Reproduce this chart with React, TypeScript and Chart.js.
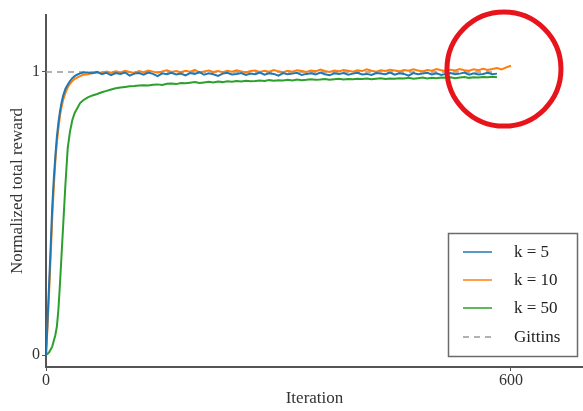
import React, { useEffect, useRef } from "react";
import { Chart, registerables } from "chart.js";

Chart.register(...registerables);

// Iterations shared by all series
const ITER_EARLY = [0, 2, 4, 6, 8, 10, 12, 14, 16, 18, 20, 22, 25, 28, 31, 34, 37, 40, 44, 48];
const ITER_LATE: number[] = [];
for (let it = 54; it <= 600; it += 6) ITER_LATE.push(it);
const ITERATIONS = [...ITER_EARLY, ...ITER_LATE];

const K5_VALUES = [
  0.0, 0.12, 0.25, 0.38, 0.52, 0.62, 0.70, 0.77, 0.82, 0.86, 0.89, 0.915, 0.94, 0.955, 0.968, 0.978, 0.985, 0.99, 0.995, 0.998,
  0.998, 0.995, 1.000, 0.992, 0.997, 0.989, 0.996, 0.993, 0.998, 0.987,
  0.994, 0.996, 0.990, 0.998, 0.993, 0.985, 0.995, 0.992, 0.997, 0.991,
  0.994, 0.988, 0.996, 0.993, 0.999, 0.990, 0.995, 0.992, 0.986, 0.994,
  0.997, 0.991, 0.993, 0.996, 0.989, 0.994, 0.992, 0.998, 0.990, 0.995,
  0.993, 0.987, 0.996, 0.992, 0.994, 0.997, 0.989, 0.993, 0.995, 0.991,
  0.998, 0.992, 0.988, 0.995, 0.993, 0.996, 0.990, 0.994, 0.997, 0.991,
  0.993, 0.989, 0.996, 0.994, 0.992, 0.998, 0.990, 0.995, 0.993, 0.987,
  0.996, 0.992, 0.994, 0.997, 0.991, 0.995, 0.989, 0.993, 0.996, 0.992,
  0.994, 0.998, 0.990, 0.995, 0.991, 0.993, 0.997, 0.992, 0.994,
];

const K10_VALUES = [
  0.0, 0.10, 0.22, 0.35, 0.48, 0.59, 0.68, 0.75, 0.80, 0.845, 0.875, 0.90, 0.925, 0.945, 0.958, 0.968, 0.975, 0.98, 0.985, 0.99,
  0.992, 0.996, 0.999, 0.996, 1.001, 0.997, 1.002, 0.998, 1.004, 1.000,
  0.996, 1.003, 0.999, 1.005, 1.001, 0.997, 1.002, 1.006, 1.000, 1.003,
  0.999, 1.004, 1.001, 1.007, 0.998, 1.002, 1.005, 1.000, 1.003, 0.999,
  1.004, 1.001, 1.006, 1.002, 0.998, 1.003, 1.005, 1.000, 1.004, 1.001,
  1.007, 1.002, 0.999, 1.004, 1.001, 1.006, 1.003, 1.000, 1.005, 1.002,
  1.008, 1.003, 1.000, 1.005, 1.002, 1.007, 1.004, 1.001, 1.006, 1.003,
  1.009, 1.004, 1.001, 1.006, 1.003, 1.008, 1.005, 1.002, 1.007, 1.004,
  1.009, 1.005, 1.002, 1.007, 1.004, 1.010, 1.006, 1.003, 1.008, 1.005,
  1.010, 1.006, 1.004, 1.009, 1.006, 1.011, 1.007, 1.010, 1.014, 1.009,
  1.016, 1.022,
];

const K50_VALUES = [
  0.0, 0.005, 0.01, 0.02, 0.03, 0.05, 0.07, 0.10, 0.16, 0.25, 0.35, 0.45, 0.60, 0.73, 0.79, 0.83, 0.855, 0.87, 0.89, 0.90,
  0.910, 0.917, 0.922, 0.928, 0.933, 0.938, 0.942, 0.945, 0.947, 0.949,
  0.950, 0.952, 0.953, 0.952, 0.955, 0.956, 0.954, 0.958, 0.959, 0.957,
  0.961, 0.960, 0.962, 0.964, 0.961, 0.963, 0.965, 0.963, 0.966, 0.964,
  0.967, 0.965, 0.968, 0.966, 0.969, 0.967, 0.968, 0.970, 0.968, 0.971,
  0.969, 0.971, 0.970, 0.972, 0.970, 0.973, 0.971, 0.972, 0.974, 0.972,
  0.973, 0.975, 0.972, 0.974, 0.976, 0.973, 0.975, 0.974, 0.976, 0.975,
  0.977, 0.974, 0.976, 0.978, 0.975, 0.977, 0.976, 0.978, 0.977, 0.979,
  0.976, 0.978, 0.980, 0.977, 0.979, 0.978, 0.980, 0.979, 0.981, 0.978,
  0.980, 0.982, 0.979, 0.981, 0.980, 0.982, 0.981, 0.983, 0.981,
];

const GITTINS_X = [0, 580];
const GITTINS_Y = [1, 1];

const X_TICKS = [0, 600];
const Y_TICKS = [0, 1];

// Highlight circle (red annotation) centre, in data units
const HIGHLIGHT_X = 591;
const HIGHLIGHT_Y = 1.01;

const SERIES_LABELS = ["k = 5", "k = 10", "k = 50", "Gittins"];
const SERIES_COLORS = ["#1f77b4", "#ff7f0e", "#2ca02c", "#999999"];

const FONT = "'Liberation Serif', 'Times New Roman', serif";

const toPoints = (xs: number[], ys: number[]) => ys.map((y, i) => ({ x: xs[i], y }));

const legendPlugin = {
  id: "boxLegend",
  afterDraw(chart: any) {
    const ctx = chart.ctx as CanvasRenderingContext2D;
    const left = 448.5, top = 233.5, w = 129, h = 123;
    ctx.save();
    ctx.fillStyle = "#ffffff";
    ctx.fillRect(left, top, w, h);
    ctx.strokeStyle = "#6b6b6b";
    ctx.lineWidth = 1.5;
    ctx.strokeRect(left, top, w, h);
    const ys = [252, 280, 308, 337];
    chart.data.datasets.forEach((ds: any, i: number) => {
      const y = ys[i];
      ctx.beginPath();
      ctx.strokeStyle = ds.borderColor;
      ctx.lineWidth = 1.5;
      ctx.setLineDash(ds.borderDash || []);
      ctx.moveTo(463, y);
      ctx.lineTo(492, y);
      ctx.stroke();
      ctx.setLineDash([]);
      ctx.fillStyle = "#222";
      ctx.font = `17px ${FONT}`;
      ctx.textBaseline = "middle";
      ctx.textAlign = "left";
      ctx.fillText(ds.label, 514, y + 1);
    });

    // red highlight circle
    const cx = chart.scales.x.getPixelForValue(HIGHLIGHT_X);
    const cy = chart.scales.y.getPixelForValue(HIGHLIGHT_Y);
    ctx.beginPath();
    ctx.strokeStyle = "#e8141c";
    ctx.lineWidth = 5;
    ctx.ellipse(cx, cy, 57, 57, 0, 0, Math.PI * 2);
    ctx.stroke();
    ctx.restore();
  },
};

export default function App() {
  const ref = useRef<HTMLCanvasElement | null>(null);

  useEffect(() => {
    document.body.style.margin = "0";
    const canvas = ref.current;
    if (!canvas) return;
    const chart = new Chart(canvas, {
      type: "line",
      data: {
        datasets: [
          {
            label: SERIES_LABELS[0],
            data: toPoints(ITERATIONS, K5_VALUES),
            borderColor: SERIES_COLORS[0],
            borderWidth: 2,
            pointRadius: 0,
            tension: 0,
          },
          {
            label: SERIES_LABELS[1],
            data: toPoints(ITERATIONS, K10_VALUES),
            borderColor: SERIES_COLORS[1],
            borderWidth: 2,
            pointRadius: 0,
            tension: 0,
          },
          {
            label: SERIES_LABELS[2],
            data: toPoints(ITERATIONS, K50_VALUES),
            borderColor: SERIES_COLORS[2],
            borderWidth: 2,
            pointRadius: 0,
            tension: 0,
          },
          {
            label: SERIES_LABELS[3],
            data: toPoints(GITTINS_X, GITTINS_Y),
            borderColor: SERIES_COLORS[3],
            borderWidth: 1.5,
            borderDash: [6, 5],
            pointRadius: 0,
            order: 10,
          },
        ],
      },
      options: {
        animation: false,
        responsive: false,
        maintainAspectRatio: false,
        layout: { padding: { top: 15, right: 0, left: 0, bottom: 0 } },
        plugins: { legend: { display: false }, tooltip: { enabled: false } },
        scales: {
          x: {
            type: "linear",
            min: 0,
            max: 693,
            afterBuildTicks: (scale: any) => {
              scale.ticks = X_TICKS.map((v) => ({ value: v }));
            },
            afterFit: (scale: any) => {
              scale.height = 44;
            },
            ticks: {
              color: "#333",
              font: { family: FONT, size: 16 },
              padding: 0,
              maxRotation: 0,
            },
            grid: {
              display: true,
              drawOnChartArea: false,
              drawTicks: true,
              tickLength: 4,
              color: "#555",
              lineWidth: 1,
            },
            border: { display: true, color: "#555", width: 2 },
            title: {
              display: true,
              text: "Iteration",
              color: "#333",
              font: { family: FONT, size: 17 },
              padding: { top: 0, bottom: 2 },
            },
          },
          y: {
            type: "linear",
            min: -0.042,
            max: 1.201,
            afterBuildTicks: (scale: any) => {
              scale.ticks = Y_TICKS.map((v) => ({ value: v }));
            },
            afterFit: (scale: any) => {
              scale.width = 46;
            },
            ticks: {
              color: "#333",
              font: { family: FONT, size: 16 },
              padding: 2,
            },
            grid: {
              display: true,
              drawOnChartArea: false,
              drawTicks: true,
              tickLength: 4,
              color: "#555",
              lineWidth: 1,
            },
            border: { display: true, color: "#555", width: 2 },
            title: {
              display: true,
              text: "Normalized total reward",
              color: "#333",
              font: { family: FONT, size: 17 },
              padding: { top: 7, bottom: 0 },
            },
          },
        },
      },
      plugins: [legendPlugin],
    });
    return () => chart.destroy();
  }, []);

  return (
    <div style={{ width: 583, height: 411 }}>
      <canvas ref={ref} width={583} height={411} style={{ width: 583, height: 411, display: "block" }} />
    </div>
  );
}
